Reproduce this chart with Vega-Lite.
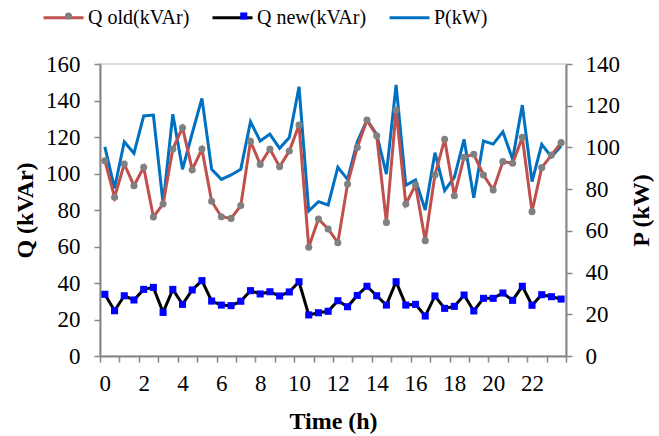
{
  "$schema": "https://vega.github.io/schema/vega-lite/v6.json",
  "width": 466,
  "height": 292,
  "autosize": {"type": "none"},
  "padding": {"left": 100, "top": 64, "right": 93, "bottom": 80},
  "background": "white",
  "config": {
    "font": "Times New Roman",
    "view": {"stroke": "#d9d9d9", "strokeWidth": 2},
    "axis": {
      "labelFont": "Times New Roman",
      "labelFontSize": 23,
      "labelColor": "#000000",
      "titleFont": "Times New Roman",
      "titleFontSize": 24,
      "titleFontWeight": "bold",
      "titleColor": "#000000",
      "domainColor": "#868686",
      "domainWidth": 2,
      "tickColor": "#868686",
      "tickWidth": 1.5,
      "tickSize": 6,
      "grid": false
    },
    "legend": {"labelFont": "Times New Roman"}
  },
  "data": {
    "values": [
      {"t": 0, "qold": 107.0, "qnew": 33.8, "p": 100.3},
      {"t": 0.5, "qold": 87.0, "qnew": 24.8, "p": 80.4},
      {"t": 1, "qold": 105.2, "qnew": 33.0, "p": 102.7},
      {"t": 1.5, "qold": 93.3, "qnew": 30.7, "p": 97.2},
      {"t": 2, "qold": 103.4, "qnew": 36.5, "p": 115.1},
      {"t": 2.5, "qold": 76.2, "qnew": 37.6, "p": 115.5},
      {"t": 3, "qold": 83.3, "qnew": 23.9, "p": 72.9},
      {"t": 3.5, "qold": 113.4, "qnew": 36.5, "p": 115.9},
      {"t": 4, "qold": 125.1, "qnew": 28.3, "p": 89.5},
      {"t": 4.5, "qold": 102.1, "qnew": 36.2, "p": 106.8},
      {"t": 5, "qold": 113.4, "qnew": 41.3, "p": 123.5},
      {"t": 5.5, "qold": 84.8, "qnew": 30.1, "p": 89.5},
      {"t": 6, "qold": 76.3, "qnew": 27.9, "p": 84.7},
      {"t": 6.5, "qold": 75.4, "qnew": 27.6, "p": 86.8},
      {"t": 7, "qold": 82.4, "qnew": 30.0, "p": 89.5},
      {"t": 7.5, "qold": 117.6, "qnew": 35.8, "p": 112.3},
      {"t": 8, "qold": 105.0, "qnew": 34.0, "p": 103.1},
      {"t": 8.5, "qold": 113.4, "qnew": 35.2, "p": 106.4},
      {"t": 9, "qold": 103.7, "qnew": 32.9, "p": 99.6},
      {"t": 9.5, "qold": 112.3, "qnew": 35.1, "p": 104.7},
      {"t": 10, "qold": 126.6, "qnew": 40.7, "p": 129.1},
      {"t": 10.5, "qold": 59.6, "qnew": 22.5, "p": 69.5},
      {"t": 11, "qold": 75.1, "qnew": 23.7, "p": 74.0},
      {"t": 11.5, "qold": 69.6, "qnew": 24.5, "p": 72.4},
      {"t": 12, "qold": 62.1, "qnew": 30.3, "p": 90.5},
      {"t": 12.5, "qold": 94.2, "qnew": 27.0, "p": 84.7},
      {"t": 13, "qold": 114.3, "qnew": 33.2, "p": 102.7},
      {"t": 13.5, "qold": 129.3, "qnew": 38.2, "p": 113.1},
      {"t": 14, "qold": 120.7, "qnew": 33.0, "p": 106.3},
      {"t": 14.5, "qold": 73.2, "qnew": 27.9, "p": 87.2},
      {"t": 15, "qold": 134.8, "qnew": 40.7, "p": 130.0},
      {"t": 15.5, "qold": 83.3, "qnew": 27.9, "p": 81.8},
      {"t": 16, "qold": 93.7, "qnew": 28.3, "p": 84.4},
      {"t": 16.5, "qold": 63.2, "qnew": 21.9, "p": 70.0},
      {"t": 17, "qold": 99.2, "qnew": 32.9, "p": 97.5},
      {"t": 17.5, "qold": 118.7, "qnew": 26.1, "p": 79.3},
      {"t": 18, "qold": 87.8, "qnew": 27.2, "p": 85.7},
      {"t": 18.5, "qold": 108.9, "qnew": 33.4, "p": 103.9},
      {"t": 19, "qold": 110.5, "qnew": 24.7, "p": 75.9},
      {"t": 19.5, "qold": 99.2, "qnew": 31.6, "p": 103.1},
      {"t": 20, "qold": 91.0, "qnew": 31.6, "p": 101.6},
      {"t": 20.5, "qold": 106.5, "qnew": 34.5, "p": 107.5},
      {"t": 21, "qold": 105.6, "qnew": 30.5, "p": 94.3},
      {"t": 21.5, "qold": 119.8, "qnew": 38.2, "p": 120.3},
      {"t": 22, "qold": 79.1, "qnew": 27.8, "p": 83.6},
      {"t": 22.5, "qold": 103.2, "qnew": 33.6, "p": 101.5},
      {"t": 23, "qold": 110.1, "qnew": 32.5, "p": 95.5},
      {"t": 23.5, "qold": 116.9, "qnew": 31.2, "p": 100.7}
    ]
  },
  "transform": [{"fold": ["qold", "qnew", "p"], "as": ["series", "value"]}],
  "encoding": {
    "x": {
      "field": "t",
      "type": "quantitative",
      "scale": {"domain": [-0.25, 23.75], "nice": false, "zero": false},
      "axis": {
        "title": "Time (h)",
        "values": [-0.25, 0.75, 1.75, 2.75, 3.75, 4.75, 5.75, 6.75, 7.75, 8.75, 9.75, 10.75, 11.75, 12.75, 13.75, 14.75, 15.75, 16.75, 17.75, 18.75, 19.75, 20.75, 21.75, 22.75, 23.75],
        "labelExpr": "((datum.value + 0.25) % 2 === 0 && datum.value < 23) ? format(datum.value + 0.25, 'd') : ''",
        "labelOffset": 4.85,
        "labelOverlap": false,
        "labelFlush": false,
        "labelBound": false,
        "labelPadding": 10,
        "titlePadding": 14
      }
    }
  },
  "layer": [
    {
      "transform": [{"filter": "datum.series === 'p'"}],
      "mark": {"type": "line", "strokeWidth": 3},
      "encoding": {
        "y": {
          "field": "value",
          "type": "quantitative",
          "scale": {"domain": [0, 140], "nice": false},
          "axis": {
            "orient": "right",
            "title": "P (kW)",
            "titleAngle": 270,
            "titleBaseline": "top",
            "values": [0, 20, 40, 60, 80, 100, 120, 140],
            "labelPadding": 13,
            "titlePadding": 10
          }
        },
        "color": {
          "field": "series",
          "type": "nominal",
          "scale": {"domain": ["qold", "qnew", "p"], "range": ["#C0504D", "#000000", "#0070C0"]},
          "legend": {
            "orient": "none",
            "legendX": -58,
            "legendY": -68,
            "direction": "horizontal",
            "title": null,
            "padding": 0,
            "symbolType": "stroke",
            "symbolSize": 1600,
            "symbolStrokeWidth": 3,
            "labelFont": "Times New Roman",
            "labelFontSize": 20,
            "labelColor": "#000000",
            "labelOffset": 3,
            "columnPadding": 16,
            "labelLimit": 300,
            "labelExpr": "datum.value === 'qold' ? 'Q old(kVAr)' : datum.value === 'qnew' ? 'Q new(kVAr)' : 'P(kW)'"
          }
        }
      }
    },
    {
      "transform": [{"filter": "datum.series !== 'p'"}],
      "encoding": {
        "y": {
          "field": "value",
          "type": "quantitative",
          "scale": {"domain": [0, 160], "nice": false},
          "axis": {
            "orient": "left",
            "title": "Q (kVAr)",
            "values": [0, 20, 40, 60, 80, 100, 120, 140, 160],
            "labelPadding": 14,
            "titlePadding": 8
          }
        }
      },
      "layer": [
        {
          "mark": {"type": "line", "strokeWidth": 3},
          "encoding": {
            "color": {
              "field": "series",
              "type": "nominal",
              "scale": {"domain": ["qold", "qnew", "p"], "range": ["#C0504D", "#000000", "#0070C0"]},
              "legend": {
                "orient": "none",
                "legendX": -58,
                "legendY": -68,
                "direction": "horizontal",
                "title": null,
                "padding": 0,
                "symbolType": "stroke",
                "symbolSize": 1600,
                "symbolStrokeWidth": 3,
                "labelFont": "Times New Roman",
                "labelFontSize": 20,
                "labelColor": "#000000",
                "labelOffset": 3,
                "columnPadding": 16,
                "labelLimit": 300,
                "labelExpr": "datum.value === 'qold' ? 'Q old(kVAr)' : datum.value === 'qnew' ? 'Q new(kVAr)' : 'P(kW)'"
              }
            }
          }
        },
        {
          "mark": {"type": "point", "filled": true, "opacity": 1, "strokeWidth": 0, "size": 50},
          "encoding": {
            "shape": {
              "field": "series",
              "type": "nominal",
              "scale": {"domain": ["qold", "qnew"], "range": ["circle", "square"]},
              "legend": {
                "orient": "none",
                "legendX": -41.54,
                "legendY": -58,
                "direction": "horizontal",
                "title": null,
                "padding": 0,
                "symbolSize": 50,
                "symbolStrokeWidth": 0,
                "symbolOpacity": 1,
                "labelFont": "Times New Roman",
                "labelFontSize": 20,
                "labelOffset": 0,
                "columnPadding": 155.3,
                "labelLimit": 300,
                "labelExpr": "''"
              }
            },
            "fill": {
              "field": "series",
              "type": "nominal",
              "scale": {"domain": ["qold", "qnew"], "range": ["#808080", "#0000FF"]},
              "legend": {
                "orient": "none",
                "legendX": -41.54,
                "legendY": -58,
                "direction": "horizontal",
                "title": null,
                "padding": 0,
                "symbolSize": 50,
                "symbolStrokeWidth": 0,
                "symbolOpacity": 1,
                "labelFont": "Times New Roman",
                "labelFontSize": 20,
                "labelOffset": 0,
                "columnPadding": 155.3,
                "labelLimit": 300,
                "labelExpr": "''"
              }
            }
          }
        }
      ]
    }
  ],
  "resolve": {"scale": {"y": "independent"}}
}
